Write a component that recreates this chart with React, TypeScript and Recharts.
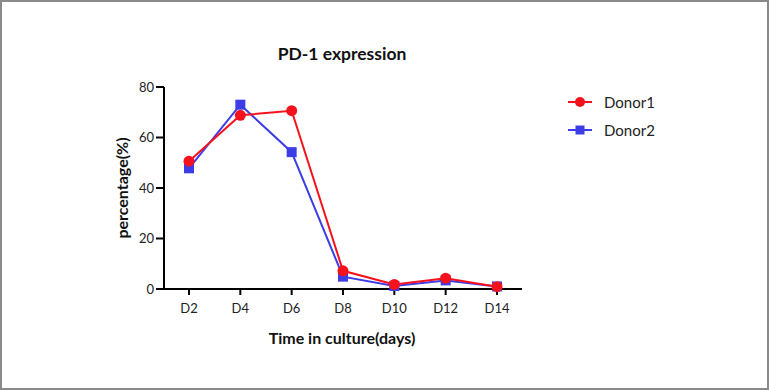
import React from "react";
import { LineChart, Line, XAxis, YAxis } from "recharts";

const categories = ["D2", "D4", "D6", "D8", "D10", "D12", "D14"];
const donor1 = [50.6, 68.8, 70.6, 7.2, 1.8, 4.3, 0.9];
const donor2 = [47.8, 73.0, 54.2, 4.9, 1.2, 3.4, 1.0];
const yTicks = [0, 20, 40, 60, 80];

const data = categories.map((c, i) => ({ day: c, Donor1: donor1[i], Donor2: donor2[i] }));

const RED = "#f5121c";
const BLUE = "#3d3de8";
const FONT = "Lato, 'Open Sans', sans-serif";

const SquareDot = (props: any) => {
  const { cx, cy } = props;
  if (cx == null || cy == null) return null;
  return <rect x={cx - 5} y={cy - 5} width={10} height={10} fill={BLUE} />;
};

const CircleDot = (props: any) => {
  const { cx, cy } = props;
  if (cx == null || cy == null) return null;
  return <circle cx={cx} cy={cy} r={5.5} fill={RED} />;
};

export default function App() {
  return (
    <div
      style={{
        position: "absolute",
        left: 0,
        top: 0,
        width: 769,
        height: 390,
        boxSizing: "border-box",
        border: "2px solid #8a8a8a",
        background: "#fff",
        fontFamily: FONT,
      }}
    >
      <div style={{ position: "absolute", left: -2, top: -2 }}>
        <LineChart
          width={769}
          height={390}
          data={data}
          margin={{ top: 87, right: 247, bottom: 71, left: 104 }}
        >
          <XAxis
            dataKey="day"
            padding={{ left: 25, right: 25 }}
            height={30}
            tickSize={6}
            stroke="#000"
            strokeWidth={2}
            tick={{ fill: "#222", fontSize: 13, fontFamily: FONT, dy: 7 }}
            tickLine={{ stroke: "#000", strokeWidth: 2 }}
          />
          <YAxis
            domain={[0, 80]}
            ticks={yTicks}
            width={60}
            tickSize={8}
            stroke="#000"
            strokeWidth={2}
            tick={{ fill: "#222", fontSize: 13, fontFamily: FONT }}
            tickLine={{ stroke: "#000", strokeWidth: 2 }}
          />
          <Line
            dataKey="Donor2"
            stroke={BLUE}
            strokeWidth={2}
            dot={<SquareDot />}
            activeDot={false}
            isAnimationActive={false}
          />
          <Line
            dataKey="Donor1"
            stroke={RED}
            strokeWidth={2}
            dot={<CircleDot />}
            activeDot={false}
            isAnimationActive={false}
          />
        </LineChart>
      </div>
      <div
        style={{
          position: "absolute",
          left: 240,
          width: 200,
          top: 41,
          textAlign: "center",
          fontWeight: 700,
          fontSize: 17.5,
          color: "#111",
        }}
      >
        PD-1 expression
      </div>
      <div
        style={{
          position: "absolute",
          left: 240,
          width: 200,
          top: 326,
          textAlign: "center",
          fontWeight: 700,
          fontSize: 16,
          color: "#111",
        }}
      >
        Time in culture(days)
      </div>
      <div
        style={{
          position: "absolute",
          left: 120 - 80,
          top: 186 - 10,
          width: 160,
          height: 20,
          lineHeight: "20px",
          textAlign: "center",
          fontWeight: 700,
          fontSize: 16,
          color: "#111",
          transform: "rotate(-90deg)",
        }}
      >
        percentage(%)
      </div>
      <div style={{ position: "absolute", left: 565, top: 86 }}>
        {[
          { name: "Donor1", color: RED, shape: "circle" },
          { name: "Donor2", color: BLUE, shape: "square" },
        ].map((it) => (
          <div key={it.name} style={{ display: "flex", alignItems: "center", height: 28 }}>
            <svg width={26} height={14} style={{ marginRight: 11 }}>
              <line x1={1} y1={7} x2={25} y2={7} stroke={it.color} strokeWidth={2} />
              {it.shape === "circle" ? (
                <circle cx={13} cy={7} r={5} fill={it.color} />
              ) : (
                <rect x={8.5} y={2.5} width={9} height={9} fill={it.color} />
              )}
            </svg>
            <span style={{ fontSize: 15, color: "#222" }}>{it.name}</span>
          </div>
        ))}
      </div>
    </div>
  );
}
